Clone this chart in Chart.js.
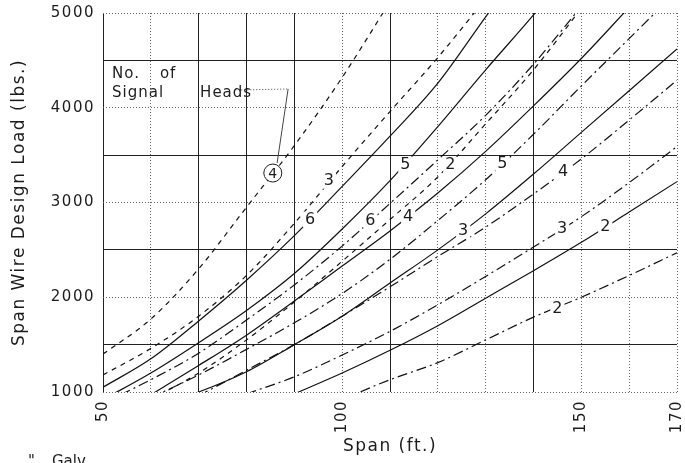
<!DOCTYPE html>
<html>
<head>
<meta charset="utf-8">
<script src="https://cdn.jsdelivr.net/npm/chart.js@4.4.1/dist/chart.umd.min.js"></script>
<style>
  html, body { margin: 0; padding: 0; background: #fff; }
  canvas { display: block; }
</style>
</head>
<body>
<canvas id="span-chart-canvas" width="685" height="463"></canvas>
<script>
const spans = [50, 60, 70, 80, 90, 100, 110, 120, 130, 140, 150, 160, 170];

// short dashes
const dashed4 = [1400, 1770, 2300, 2950, 3600, 4320, 5120, null, null, null, null, null, null];
const dashed3 = [1180, 1460, 1800, 2230, 2780, 3380, 3960, 4530, 5150, null, null, null, null];
const dashed2 = [null, 920, 1200, 1550, 1950, 2380, 2820, 3270, 3830, 4400, 5050, null, null];
// solid
const solid6 = [1050, 1350, 1750, 2180, 2650, 3170, 3700, 4260, 4960, 5650, null, null, null];
const solid5 = [920, 1200, 1520, 1860, 2250, 2720, 3230, 3800, 4400, 4980, 5600, null, null];
const solid4 = [null, 970, 1280, 1600, 1960, 2330, 2700, 3100, 3540, 4020, 4520, 5060, null];
const solid3 = [null, 830, 1000, 1214, 1500, 1800, 2150, 2500, 2880, 3300, 3740, 4180, 4620];
const solid2 = [null, null, null, null, 980, 1200, 1440, 1700, 1990, 2280, 2580, 2900, 3220];
// long dash + dot
const dashDot6 = [880, 1130, 1410, 1760, 2130, 2540, 2990, 3450, 3920, 4460, 5070, null, null];
const dashDot5 = [null, 940, 1180, 1450, 1730, 2040, 2400, 2810, 3240, 3720, 4230, 4730, 5230];
const dashDot4 = [null, null, 960, 1230, 1500, 1800, 2110, 2430, 2740, 3090, 3460, 3870, 4290];
const dashDot3 = [null, null, null, 980, 1160, 1390, 1640, 1920, 2220, 2530, 2850, 3210, 3590];
const dashDot2 = [null, null, null, null, null, 920, 1130, 1310, 1550, 1790, 2000, 2230, 2470];

// numbers written on the curves
const headText = ['3', '6', '6', '5', '2', '4', '3', '5', '4', '3', '2', '2'];
const headSpan = [97.2, 93.3, 105.9, 113.2, 122.6, 113.8, 125.3, 133.5, 146.2, 146, 155, 145];
const headLoad = [3230, 2820, 2806, 3400, 3400, 2850, 2701, 3405, 3319, 2722, 2740, 1880];

const xTickLabels = [50, 100, 150, 170];
const xSolidGrid = [50, 70, 80, 90, 110, 140];
const ySolidGrid = [1500, 2500, 3500, 4500];

const noteText = ['No.', 'of', 'Signal', 'Heads'];
const noteSpan = [51.9, 61.9, 51.9, 70.3];
const noteLoad = [4314, 4314, 4113, 4113];

const dashStyles = { dashed: [5, 5], solid: [], dashDot: [10, 4, 2, 4] };
const curves = [
    [dashed4, 'dashed'], [dashed3, 'dashed'], [dashed2, 'dashed'],
    [solid6, 'solid'], [solid5, 'solid'], [solid4, 'solid'], [solid3, 'solid'], [solid2, 'solid'],
    [dashDot6, 'dashDot'], [dashDot5, 'dashDot'], [dashDot4, 'dashDot'], [dashDot3, 'dashDot'], [dashDot2, 'dashDot']
];

const font = 'DejaVu Sans';
const ink = '#1c1c1c';

const chartNotes = {
    id: 'chartNotes',
    beforeDraw(chart) {
        chart.ctx.letterSpacing = '1.5px';
    },
    afterDatasetsDraw(chart) {
        const {ctx, scales: {x, y}} = chart;
        ctx.save();
        ctx.letterSpacing = '0px';
        ctx.font = '16px "' + font + '"';
        ctx.textAlign = 'center';
        ctx.textBaseline = 'middle';
        headText.forEach((t, i) => {
            const px = x.getPixelForValue(headSpan[i]);
            const py = y.getPixelForValue(headLoad[i]);
            const w = ctx.measureText(t).width;
            ctx.fillStyle = '#fff';
            ctx.fillRect(px - w / 2 - 2, py - 8, w + 4, 16);
            ctx.fillStyle = ink;
            ctx.fillText(t, px, py);
        });

        // "No. of Signal Heads" note with leader to the circled 4
        ctx.letterSpacing = '1px';
        ctx.font = '15px "' + font + '"';
        ctx.textAlign = 'left';
        ctx.textBaseline = 'alphabetic';
        noteText.forEach((t, i) => {
            ctx.fillText(t, x.getPixelForValue(noteSpan[i]), y.getPixelForValue(noteLoad[i]));
        });
        ctx.strokeStyle = '#444';
        ctx.lineWidth = 1;
        ctx.setLineDash([1, 2]);
        ctx.beginPath();
        ctx.moveTo(x.getPixelForValue(78.9), y.getPixelForValue(4187));
        ctx.lineTo(x.getPixelForValue(88.7), y.getPixelForValue(4198));
        ctx.stroke();
        ctx.setLineDash([]);
        ctx.beginPath();
        ctx.moveTo(x.getPixelForValue(88.7), y.getPixelForValue(4198));
        ctx.lineTo(x.getPixelForValue(86.4), y.getPixelForValue(3417));
        ctx.stroke();
        const cx = x.getPixelForValue(85.5);
        const cy = y.getPixelForValue(3311);
        ctx.beginPath();
        ctx.arc(cx, cy, 9, 0, Math.PI * 2);
        ctx.fillStyle = '#fff';
        ctx.fill();
        ctx.strokeStyle = ink;
        ctx.stroke();
        ctx.letterSpacing = '0px';
        ctx.fillStyle = ink;
        ctx.font = '14px "' + font + '"';
        ctx.textAlign = 'center';
        ctx.textBaseline = 'middle';
        ctx.fillText('4', cx, cy + 1);

        // cut-off caption at the page bottom
        ctx.textAlign = 'left';
        ctx.textBaseline = 'alphabetic';
        ctx.font = '15px "' + font + '"';
        ctx.fillText('"', 28, 466);
        ctx.fillText('Galv.', 52, 466);
        ctx.restore();
    }
};

const spanChartContext = document.getElementById('span-chart-canvas').getContext('2d');

const spanChart = new Chart(spanChartContext, {
    type: 'line',
    data: {
        datasets: curves.map(([values, style]) => ({
            data: spans.map((s, i) => ({x: s, y: values[i]})).filter(p => p.y !== null),
            borderColor: '#111',
            borderWidth: 1.2,
            borderDash: dashStyles[style],
            pointRadius: 0,
            fill: false,
            cubicInterpolationMode: 'monotone'
        }))
    },
    options: {
        responsive: false,
        animation: false,
        devicePixelRatio: 1,
        layout: { padding: { top: 13, right: 8, left: 0, bottom: 0 } },
        plugins: {
            legend: { display: false },
            tooltip: { enabled: false }
        },
        scales: {
            x: {
                type: 'linear',
                min: 50,
                max: 170,
                afterFit(scale) {
                    scale.height = 71;
                    scale.paddingLeft = 0;
                    scale.paddingRight = 0;
                },
                ticks: {
                    stepSize: 10,
                    autoSkip: false,
                    minRotation: 90,
                    maxRotation: 90,
                    padding: 8,
                    color: ink,
                    font: { family: font, size: 15 },
                    callback: (v) => xTickLabels.includes(v) ? String(v) : ''
                },
                grid: {
                    drawTicks: false,
                    lineWidth: 1,
                    color: (c) => c.tick && xSolidGrid.includes(c.tick.value) ? '#222' : '#666'
                },
                border: {
                    display: false,
                    dash: (c) => c.tick && !xSolidGrid.includes(c.tick.value) ? [1, 2] : []
                },
                title: {
                    display: true,
                    text: 'Span (ft.)',
                    color: ink,
                    font: { family: font, size: 17 },
                    padding: { top: 0, bottom: 6 }
                }
            },
            y: {
                min: 1000,
                max: 5000,
                afterFit(scale) {
                    scale.width = 103;
                    scale.paddingTop = 0;
                    scale.paddingBottom = 0;
                },
                ticks: {
                    stepSize: 500,
                    padding: 8,
                    color: ink,
                    font: { family: font, size: 15 },
                    callback: (v) => v % 1000 === 0 ? String(v) : ''
                },
                grid: {
                    drawTicks: false,
                    lineWidth: 1,
                    color: (c) => c.tick && ySolidGrid.includes(c.tick.value) ? '#222' : '#666'
                },
                border: {
                    display: false,
                    dash: (c) => c.tick && !ySolidGrid.includes(c.tick.value) ? [1, 2] : []
                },
                title: {
                    display: true,
                    text: 'Span Wire Design Load (lbs.)',
                    color: ink,
                    font: { family: font, size: 17 },
                    padding: { top: 9, bottom: 0 }
                }
            }
        }
    },
    plugins: [chartNotes]
});
</script>
</body>
</html>
